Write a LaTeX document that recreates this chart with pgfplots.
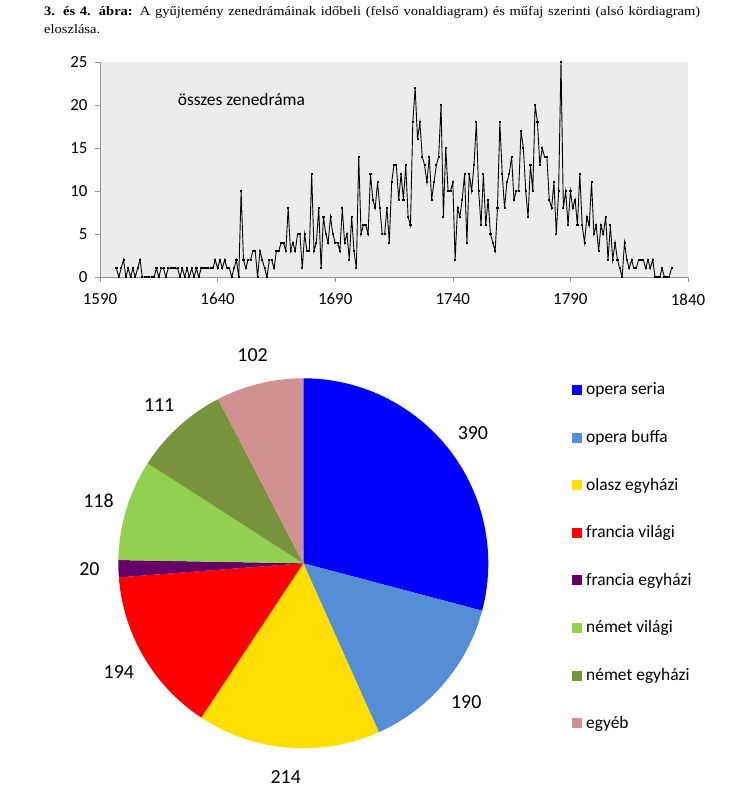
\documentclass[border=0pt]{standalone}
\usepackage{pgfplots}
\pgfplotsset{compat=1.18}
\usepackage{fontspec}
\setmainfont{Liberation Serif}
\newfontfamily\capfont{Liberation Serif}[FakeStretch=1.12]
\newfontfamily\calibri{Carlito}

\definecolor{plotbg}{RGB}{236,236,236}
\definecolor{axgray}{RGB}{150,150,150}
\definecolor{pie0}{RGB}{0,0,255}
\definecolor{pie1}{RGB}{85,142,213}
\definecolor{pie2}{RGB}{255,222,0}
\definecolor{pie3}{RGB}{255,0,0}
\definecolor{pie4}{RGB}{102,0,102}
\definecolor{pie5}{RGB}{146,208,80}
\definecolor{pie6}{RGB}{119,147,60}
\definecolor{pie7}{RGB}{210,145,145}

\pgfplotstableread{
year count
1597 1
1598 0
1599 1
1600 2
1601 0
1602 1
1603 0
1604 1
1605 0
1606 1
1607 2
1608 0
1609 0
1610 0
1611 0
1612 0
1613 0
1614 1
1615 0
1616 1
1617 1
1618 0
1619 1
1620 1
1621 1
1622 1
1623 1
1624 0
1625 1
1626 0
1627 1
1628 0
1629 1
1630 0
1631 1
1632 0
1633 1
1634 1
1635 1
1636 1
1637 1
1638 1
1639 2
1640 1
1641 2
1642 1
1643 2
1644 1
1645 1
1646 0
1647 1
1648 2
1649 0
1650 10
1651 2
1652 1
1653 2
1654 2
1655 3
1656 3
1657 0
1658 3
1659 2
1660 1
1661 0
1662 2
1663 2
1664 1
1665 3
1666 3
1667 4
1668 4
1669 3
1670 8
1671 3
1672 4
1673 3
1674 5
1675 5
1676 1
1677 5
1678 3
1679 3
1680 12
1681 3
1682 4
1683 8
1684 1
1685 7
1686 5
1687 4
1688 7
1689 5
1690 4
1691 4
1692 3
1693 8
1694 4
1695 5
1696 2
1697 7
1698 3
1699 1
1700 14
1701 5
1702 6
1703 6
1704 5
1705 12
1706 9
1707 8
1708 11
1709 8
1710 5
1711 5
1712 8
1713 4
1714 11
1715 13
1716 13
1717 9
1718 12
1719 9
1720 13
1721 7
1722 6
1723 18
1724 22
1725 16
1726 18
1727 14
1728 13
1729 11
1730 14
1731 9
1732 11
1733 13
1734 14
1735 20
1736 7
1737 15
1738 10
1739 10
1740 11
1741 2
1742 8
1743 7
1744 9
1745 12
1746 4
1747 12
1748 10
1749 13
1750 18
1751 10
1752 6
1753 12
1754 6
1755 9
1756 5
1757 4
1758 3
1759 8
1760 18
1761 12
1762 8
1763 11
1764 12
1765 14
1766 9
1767 10
1768 10
1769 17
1770 15
1771 10
1772 7
1773 13
1774 10
1775 20
1776 18
1777 13
1778 15
1779 14
1780 14
1781 9
1782 8
1783 11
1784 5
1785 10
1786 25
1787 8
1788 10
1789 6
1790 10
1791 8
1792 9
1793 6
1794 12
1795 6
1796 4
1797 7
1798 6
1799 11
1800 5
1801 6
1802 3
1803 6
1804 5
1805 7
1806 2
1807 6
1808 2
1809 4
1810 2
1811 1
1812 0
1813 4
1814 2
1815 1
1816 2
1817 1
1818 1
1819 2
1820 2
1821 2
1822 1
1823 2
1824 1
1825 2
1826 0
1827 0
1828 0
1829 1
1830 0
1831 0
1832 0
1833 1
}\yearly

\begin{document}
\begin{tikzpicture}
\path[use as bounding box] (0bp,0bp) rectangle (748bp,805bp);

% pie geometry from the values
\pgfmathsetmacro\pietotal{390+190+214+194+20+118+111+102}
\gdef\piecum{0}
\foreach \v [count=\i from 0] in {390,190,214,194,20,118,111,102} {
  \pgfmathsetmacro\pstart{90-360*(\piecum/\pietotal)}
  \pgfmathsetmacro\pnext{\piecum+\v}
  \pgfmathsetmacro\pend{90-360*(\pnext/\pietotal)}
  \pgfmathsetmacro\pmid{(\pstart+\pend)/2}
  \expandafter\xdef\csname pieS\i\endcsname{\pstart}
  \expandafter\xdef\csname pieE\i\endcsname{\pend}
  \expandafter\xdef\csname pieM\i\endcsname{\pmid}
  \expandafter\xdef\csname pieV\i\endcsname{\v}
  \xdef\piecum{\pnext}
}

% caption
\node[anchor=base west, inner sep=0] at (44bp,789bp) {\capfont\fontsize{13}{18}\selectfont\makebox[656bp][s]{\textbf{3. és 4. ábra:} A gyűjtemény zenedrámáinak időbeli (felső vonaldiagram) és műfaj szerinti (alsó kördiagram)}};
\node[anchor=base west, inner sep=0] at (44bp,771bp) {\capfont\fontsize{13}{18}\selectfont eloszlása.};

% line chart
\begin{axis}[
  at={(100bp,528bp)}, anchor=south west,
  scale only axis, width=588bp, height=215bp,
  xmin=1590, xmax=1840, ymin=0, ymax=25,
  xtick={1590,1640,1690,1740,1790,1840},
  ytick={0,5,10,15,20,25},
  axis x line*=bottom, axis y line*=left,
  axis line style={axgray,-},
  tick style={axgray, line width=0.6pt},
  tick align=outside, major tick length=5bp,
  axis background/.style={fill=plotbg},
  ticklabel style={font=\calibri\fontsize{17}{17}\selectfont},
  /pgf/number format/assume math mode=true,
  /pgf/number format/1000 sep={},
  xticklabel style={yshift=-8bp},
  yticklabel style={xshift=-4bp},
]
\addplot[black, line width=0.9pt, mark=square*, mark size=0.55pt] table[x=year, y=count] {\yearly};
\node[anchor=west, inner sep=0, font=\calibri\fontsize{17.5}{17.5}\selectfont] at (axis cs:1623,20.6) {összes zenedráma};
\end{axis}

% pie chart
\begin{axis}[
  at={(303.3bp,241.7bp)}, anchor=center,
  scale only axis, width=370bp, height=370bp,
  xmin=-1, xmax=1, ymin=-1, ymax=1,
  hide axis, clip=false,
]
\pgfplotsinvokeforeach{0,1,2,3,4,5,6,7}{
  \fill[pie#1] (axis cs:0,0) -- ++(\csname pieS#1\endcsname:185bp)
     arc[start angle=\csname pieS#1\endcsname, end angle=\csname pieE#1\endcsname, radius=185bp] -- cycle;
}
\pgfplotsinvokeforeach{0,1,2,3,4,5,6,7}{
  \path (axis cs:0,0) ++(\csname pieM#1\endcsname:214bp) node[font=\calibri\fontsize{20}{20}\selectfont, inner sep=0] {\csname pieV#1\endcsname};
}
\end{axis}

% legend
\foreach \n [count=\i from 0] in {opera seria,opera buffa,olasz egyházi,francia világi,francia egyházi,német világi,német egyházi,egyéb} {
  \pgfmathsetmacro\ly{805-390-47.6*\i}
  \fill[pie\i] (572bp,\ly bp-5bp) rectangle ++(10bp,10bp);
  \node[anchor=base west, inner sep=0, font=\calibri\fontsize{17.5}{17.5}\selectfont] at (586bp,\ly bp-5bp) {\n};
}
\end{tikzpicture}
\end{document}
